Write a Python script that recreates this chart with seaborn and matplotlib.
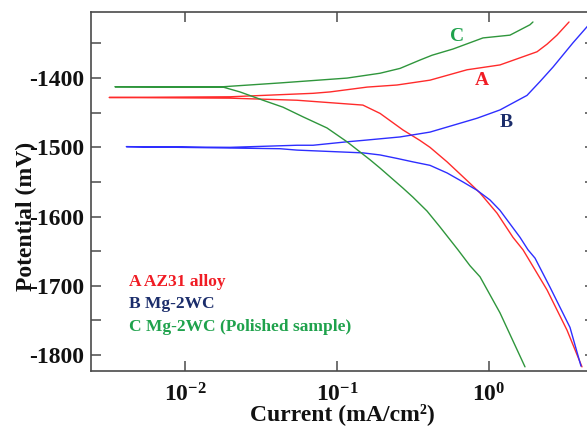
import numpy as np
import pandas as pd
import matplotlib
matplotlib.use("Agg")
import matplotlib.pyplot as plt
from matplotlib.ticker import FixedLocator, FixedFormatter, MultipleLocator, NullLocator
import seaborn as sns

# ---- data (current in mA/cm^2, potential in mV), path order: cathodic -> Ecorr -> anodic
A_current = [4.09, 3.26, 2.41, 1.806, 1.674, 1.438, 1.129, 0.873, 0.750, 0.530, 0.409, 0.351,
             0.272, 0.192, 0.148, 0.0546, 0.0198, 0.00317,
             0.0198, 0.0696, 0.0899, 0.158, 0.248, 0.409, 0.717, 1.181, 2.07, 2.41, 2.80, 3.36]
A_potential = [-1817, -1764, -1706, -1660, -1648, -1630, -1595, -1566, -1552, -1521, -1500, -1490,
               -1475, -1451, -1439, -1432, -1429, -1428,
               -1427, -1422, -1420, -1413, -1410, -1403, -1388, -1381, -1362, -1351, -1338, -1319]

B_current = [4.03, 3.41, 2.52, 2.008, 1.806, 1.600, 1.181, 1.015, 0.834, 0.674, 0.530, 0.409, 0.316,
             0.248, 0.192, 0.148, 0.0546, 0.0422, 0.0198, 0.00411,
             0.0198, 0.0546, 0.0696, 0.1164, 0.148, 0.260, 0.409, 0.834, 1.181, 1.778, 2.165,
             2.64, 3.57, 4.41, 4.98]
B_potential = [-1816, -1760, -1702, -1660, -1648, -1630, -1591, -1576, -1562, -1550, -1537, -1526, -1521,
               -1516, -1511, -1508, -1504, -1502, -1501, -1499,
               -1500, -1497, -1497, -1492, -1490, -1485, -1478, -1458, -1446, -1425, -1405,
               -1384, -1349, -1326, -1312]

C_current = [1.725, 1.181, 0.873, 0.750, 0.625, 0.476, 0.391, 0.316, 0.272, 0.192, 0.165,
             0.1164, 0.0859, 0.0598, 0.0441, 0.0326, 0.0230, 0.0178, 0.00346,
             0.0178, 0.0422, 0.1164, 0.192, 0.260, 0.351, 0.422, 0.580, 0.913, 1.374, 1.86, 1.946]
C_potential = [-1817, -1739, -1687, -1671, -1648, -1615, -1592, -1572, -1559, -1530, -1518,
               -1492, -1472, -1456, -1442, -1432, -1420, -1413, -1412.5,
               -1412.5, -1407, -1400, -1393, -1386, -1374, -1367, -1358, -1342, -1338, -1323, -1319]

series_names = ["A", "B", "C"]
legend_texts = ["A AZ31 alloy", "B Mg-2WC", "C Mg-2WC (Polished sample)"]
x_tick_values = [0.01, 0.1, 1.0]
x_tick_labels = [r"$\mathbf{10^{-2}}$", r"$\mathbf{10^{-1}}$", r"$\mathbf{10^{0}}$"]
y_tick_values = [-1800, -1700, -1600, -1500, -1400]
y_tick_labels = ["-1800", "-1700", "-1600", "-1500", "-1400"]

line_colors = {"A": "#ff2b2b", "B": "#2e2eff", "C": "#2f963c"}
text_colors = {"A": "#f01c24", "B": "#1b2d6b", "C": "#1fa24c"}

df = pd.concat([
    pd.DataFrame({"current": A_current, "potential": A_potential, "series": "A"}),
    pd.DataFrame({"current": B_current, "potential": B_potential, "series": "B"}),
    pd.DataFrame({"current": C_current, "potential": C_potential, "series": "C"}),
], ignore_index=True)

sns.set_style("ticks")
plt.rcParams["font.family"] = ["Liberation Serif", "DejaVu Serif"]
plt.rcParams["font.weight"] = "bold"
plt.rcParams["axes.unicode_minus"] = False
plt.rcParams["mathtext.fontset"] = "custom"
plt.rcParams["mathtext.rm"] = "Liberation Serif:bold"
plt.rcParams["mathtext.bf"] = "Liberation Serif:bold"
plt.rcParams["mathtext.it"] = "Liberation Serif:bold:italic"

fig = plt.figure(figsize=(5.87, 4.26), dpi=100)
ax = fig.add_axes([91 / 587, 1 - 371 / 426, (595 - 91) / 587, (371 - 12.3) / 426])

sns.lineplot(data=df, x="current", y="potential", hue="series", palette=line_colors,
             sort=False, estimator=None, legend=False, linewidth=1.0, ax=ax)

ax.set_xscale("log")
ax.set_xlim(10 ** ((91 - 489) / 152), 10 ** ((595 - 489) / 152))
ax.set_ylim(-1823, -1305)

ax.xaxis.set_major_locator(FixedLocator(x_tick_values))
ax.xaxis.set_major_formatter(FixedFormatter(x_tick_labels))
ax.xaxis.set_minor_locator(NullLocator())
ax.yaxis.set_major_locator(FixedLocator(y_tick_values))
ax.yaxis.set_major_formatter(FixedFormatter(y_tick_labels))
ax.yaxis.set_minor_locator(MultipleLocator(50))

spine_col = "#4a4a4a"
for s in ax.spines.values():
    s.set_visible(True)
    s.set_color(spine_col)
    s.set_linewidth(1.2)

ax.tick_params(axis="both", which="both", direction="in", length=7.5, width=1.1,
               color=spine_col, top=True, right=True, labelsize=17, labelcolor="#111111")
ax.tick_params(axis="y", which="both", pad=5)
ax.tick_params(axis="x", which="both", pad=9)
for lab in ax.get_yticklabels():
    lab.set_fontweight("bold")

ax.set_xlabel("Current (mA/cm²)", fontsize=17, fontweight="bold", color="#111111", va="center")
ax.set_ylabel("Potential (mV)", fontsize=17, fontweight="bold", color="#111111", va="center")
ax.xaxis.set_label_coords(0.498, -0.12)
ax.yaxis.set_label_coords(-0.128, 0.432)

# curve labels
ax.text(0.899, -1403, "A", color=text_colors["A"], fontsize=14, fontweight="bold", ha="center", va="center")
ax.text(1.294, -1463.5, "B", color=text_colors["B"], fontsize=14, fontweight="bold", ha="center", va="center")
ax.text(0.616, -1339.5, "C", color=text_colors["C"], fontsize=14, fontweight="bold", ha="center", va="center")

# legend texts
for name, txt, yb in zip(series_names, legend_texts, [0.237, 0.1765, 0.1124]):
    ax.text(0.0754, yb, txt, transform=ax.transAxes, color=text_colors[name],
            fontsize=12.5, fontweight="bold", ha="left", va="baseline")

fig.savefig("out.png", dpi=100)
